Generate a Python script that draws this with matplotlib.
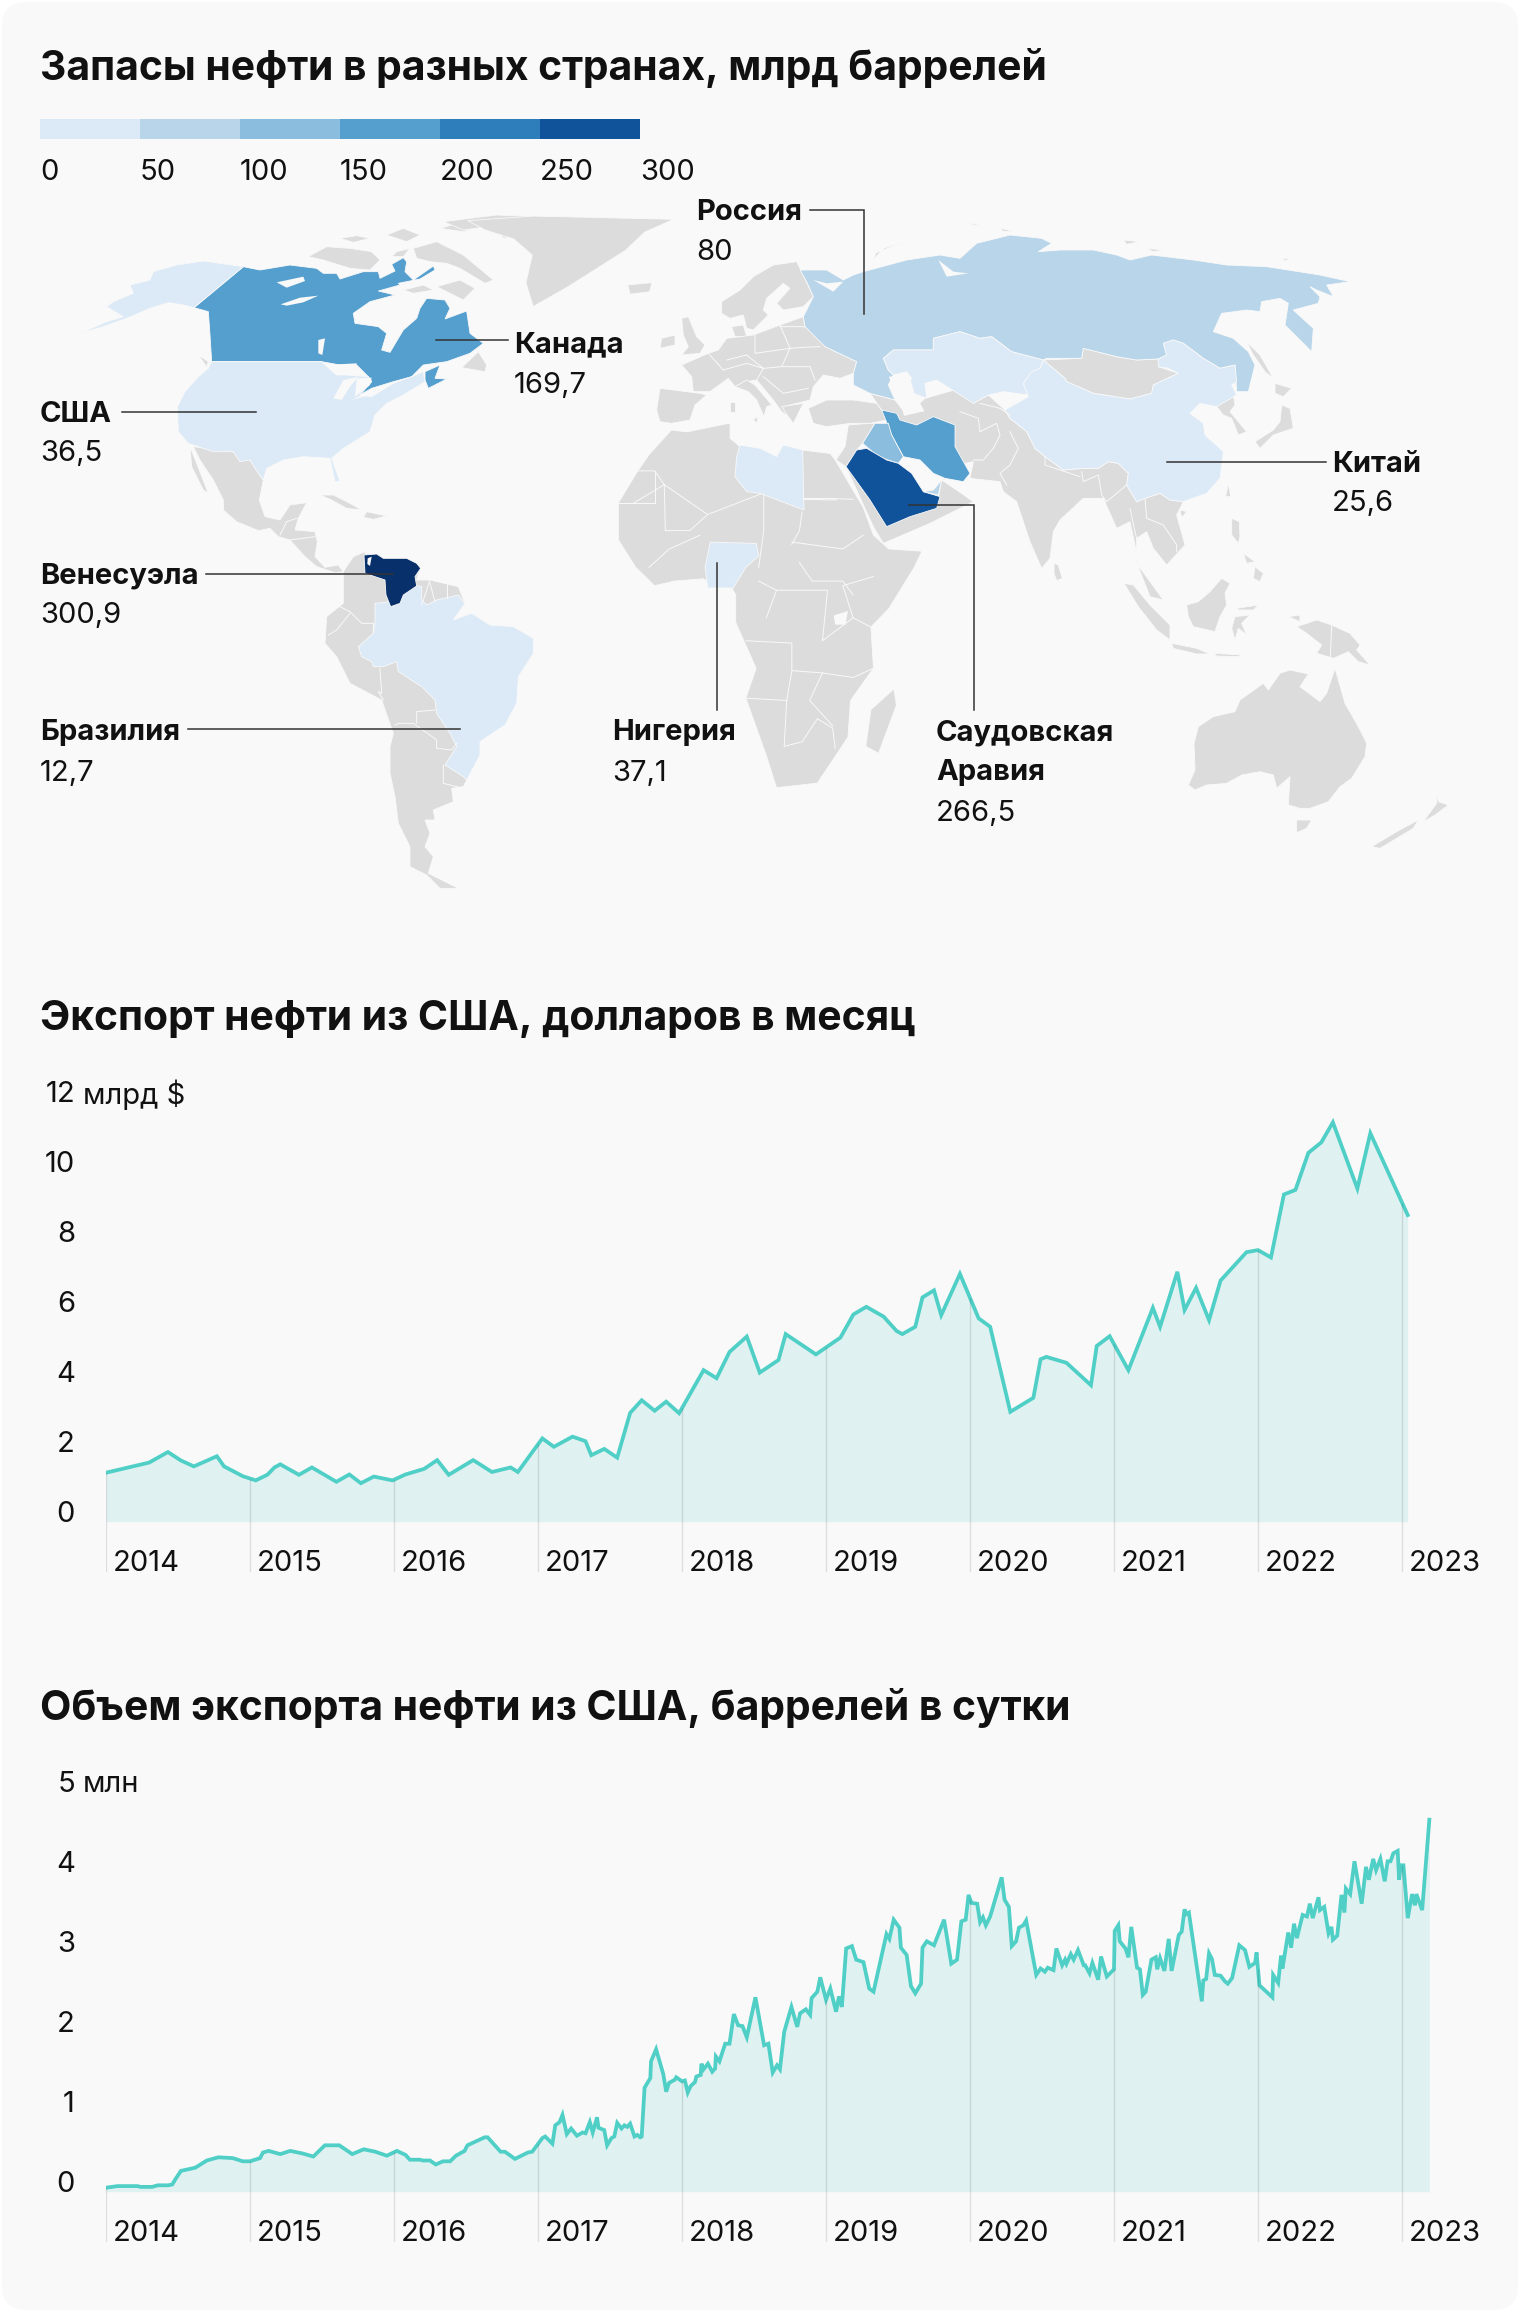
"""Oil reserves map and US oil export charts."""

import matplotlib

matplotlib.use("Agg")
import matplotlib.pyplot as plt
import numpy as np
from matplotlib.patches import FancyBboxPatch, Polygon

FIG_W, FIG_H = 1520, 2312
FONT = "Inter"

BG = "#f9f9f9"
LAND = "#dcdcdc"
LINE = "#4fcfc6"
FILL = "#dff1f1"

# legend
legend_edges = [0, 50, 100, 150, 200, 250, 300]
legend_colors = ["#dce9f6", "#b9d5ea", "#8abdde", "#559fce", "#2f7ebc", "#10539b"]
venezuela_color = "#08306b"

# map labels
countries = ["США", "Канада", "Венесуэла", "Бразилия", "Нигерия", "Россия", "Китай", "Саудовская\nАравия"]
reserves = ["36,5", "169,7", "300,9", "12,7", "37,1", "80", "25,6", "266,5"]

years = [2014, 2015, 2016, 2017, 2018, 2019, 2020, 2021, 2022, 2023]

# export, bn USD per month
export_x = [
    2014.00, 2014.30, 2014.43, 2014.52, 2014.61, 2014.77, 2014.82, 2014.95, 2015.04, 2015.12,
    2015.17, 2015.21, 2015.34, 2015.43, 2015.60, 2015.69, 2015.77, 2015.86, 2015.99, 2016.08,
    2016.21, 2016.30, 2016.38, 2016.55, 2016.68, 2016.81, 2016.86, 2017.03, 2017.11, 2017.24,
    2017.33, 2017.37, 2017.46, 2017.55, 2017.64, 2017.72, 2017.81, 2017.89, 2017.98, 2018.15,
    2018.24, 2018.33, 2018.45, 2018.54, 2018.67, 2018.72, 2018.93, 2019.10, 2019.19, 2019.28,
    2019.40, 2019.49, 2019.53, 2019.62, 2019.67, 2019.75, 2019.80, 2019.93, 2020.06, 2020.14,
    2020.28, 2020.44, 2020.49, 2020.53, 2020.67, 2020.84, 2020.88, 2020.97, 2021.10, 2021.27,
    2021.32, 2021.44, 2021.49, 2021.57, 2021.66, 2021.74, 2021.92, 2022.00, 2022.09, 2022.18,
    2022.26, 2022.35, 2022.44, 2022.52, 2022.69, 2022.78, 2023.04,
]
export_y = [
    1.40, 1.69, 1.99, 1.75, 1.58, 1.87, 1.58, 1.30, 1.18, 1.34,
    1.55, 1.64, 1.34, 1.55, 1.14, 1.35, 1.10, 1.29, 1.18, 1.35,
    1.51, 1.76, 1.34, 1.76, 1.42, 1.55, 1.42, 2.38, 2.14, 2.43,
    2.30, 1.90, 2.08, 1.83, 3.11, 3.47, 3.17, 3.43, 3.10, 4.33,
    4.10, 4.85, 5.29, 4.26, 4.62, 5.36, 4.78, 5.26, 5.92, 6.14,
    5.86, 5.45, 5.36, 5.57, 6.41, 6.61, 5.90, 7.08, 5.81, 5.57,
    3.14, 3.54, 4.64, 4.71, 4.54, 3.90, 5.02, 5.30, 4.33, 6.11,
    5.57, 7.14, 6.05, 6.68, 5.76, 6.89, 7.70, 7.76, 7.55, 9.35,
    9.48, 10.54, 10.84, 11.41, 9.52, 11.10, 8.76,
]

# export volume, mln barrels per day
volume_x = [
    2014.00, 2014.08, 2014.22, 2014.24, 2014.32, 2014.36, 2014.43, 2014.46, 2014.48, 2014.52,
    2014.62, 2014.70, 2014.78, 2014.88, 2014.95, 2015.00, 2015.07, 2015.09, 2015.13, 2015.21,
    2015.28, 2015.36, 2015.44, 2015.52, 2015.62, 2015.71, 2015.79, 2015.87, 2015.95, 2016.02,
    2016.08, 2016.11, 2016.18, 2016.20, 2016.25, 2016.29, 2016.34, 2016.39, 2016.43, 2016.49,
    2016.51, 2016.63, 2016.65, 2016.74, 2016.77, 2016.84, 2016.93, 2016.96, 2017.03, 2017.05,
    2017.10, 2017.12, 2017.15, 2017.17, 2017.20, 2017.23, 2017.27, 2017.31, 2017.33, 2017.36,
    2017.38, 2017.41, 2017.42, 2017.46, 2017.48, 2017.51, 2017.53, 2017.55, 2017.58, 2017.60,
    2017.62, 2017.64, 2017.67, 2017.69, 2017.71, 2017.72, 2017.74, 2017.78, 2017.785, 2017.82,
    2017.87, 2017.89, 2017.91, 2017.95, 2017.96, 2018.00, 2018.02, 2018.04, 2018.06, 2018.09,
    2018.10, 2018.13, 2018.135, 2018.15, 2018.18, 2018.21, 2018.23, 2018.235, 2018.26, 2018.30,
    2018.33, 2018.36, 2018.39, 2018.42, 2018.45, 2018.51, 2018.57, 2018.60, 2018.63, 2018.66,
    2018.68, 2018.71, 2018.76, 2018.80, 2018.82, 2018.86, 2018.89, 2018.90, 2018.94, 2018.96,
    2019.00, 2019.03, 2019.07, 2019.09, 2019.11, 2019.14, 2019.18, 2019.21, 2019.26, 2019.30,
    2019.33, 2019.42, 2019.44, 2019.47, 2019.51, 2019.52, 2019.56, 2019.59, 2019.62, 2019.66,
    2019.67, 2019.70, 2019.75, 2019.82, 2019.87, 2019.91, 2019.94, 2019.97, 2019.99, 2020.01,
    2020.05, 2020.07, 2020.09, 2020.11, 2020.14, 2020.22, 2020.24, 2020.27, 2020.29, 2020.32,
    2020.34, 2020.37, 2020.39, 2020.46, 2020.49, 2020.52, 2020.54, 2020.58, 2020.60, 2020.64,
    2020.66, 2020.67, 2020.70, 2020.72, 2020.75, 2020.79, 2020.80, 2020.83, 2020.85, 2020.89,
    2020.91, 2020.95, 2021.00, 2021.005, 2021.03, 2021.04, 2021.08, 2021.10, 2021.12, 2021.16,
    2021.18, 2021.20, 2021.22, 2021.26, 2021.29, 2021.30, 2021.32, 2021.35, 2021.38, 2021.40,
    2021.45, 2021.47, 2021.49, 2021.50, 2021.52, 2021.61, 2021.62, 2021.64, 2021.66, 2021.68,
    2021.70, 2021.74, 2021.77, 2021.79, 2021.82, 2021.87, 2021.91, 2021.94, 2021.98, 2021.99,
    2022.01, 2022.10, 2022.105, 2022.14, 2022.16, 2022.17, 2022.21, 2022.23, 2022.25, 2022.27,
    2022.31, 2022.34, 2022.36, 2022.38, 2022.42, 2022.43, 2022.46, 2022.49, 2022.51, 2022.52,
    2022.55, 2022.58, 2022.60, 2022.61, 2022.64, 2022.67, 2022.72, 2022.75, 2022.77, 2022.80,
    2022.82, 2022.85, 2022.88, 2022.90, 2022.92, 2022.94, 2022.97, 2022.98, 2022.99, 2023.01,
    2023.04, 2023.07, 2023.09, 2023.10, 2023.14, 2023.19,
]
volume_y = [
    0.05, 0.07, 0.07, 0.06, 0.06, 0.08, 0.08, 0.09, 0.15, 0.26,
    0.30, 0.39, 0.43, 0.42, 0.38, 0.38, 0.42, 0.49, 0.51, 0.47,
    0.51, 0.48, 0.44, 0.58, 0.58, 0.47, 0.53, 0.50, 0.45, 0.51,
    0.46, 0.40, 0.40, 0.39, 0.39, 0.34, 0.38, 0.38, 0.45, 0.51,
    0.58, 0.68, 0.68, 0.50, 0.50, 0.41, 0.49, 0.50, 0.67, 0.69,
    0.60, 0.83, 0.87, 0.96, 0.72, 0.79, 0.70, 0.74, 0.73, 0.87,
    0.74, 0.93, 0.80, 0.77, 0.58, 0.67, 0.69, 0.86, 0.79, 0.83,
    0.81, 0.85, 0.69, 0.71, 0.68, 0.69, 1.30, 1.42, 1.63, 1.78,
    1.47, 1.25, 1.36, 1.40, 1.43, 1.38, 1.39, 1.24, 1.32, 1.37,
    1.44, 1.46, 1.60, 1.53, 1.60, 1.50, 1.54, 1.69, 1.63, 1.85,
    1.85, 2.22, 2.08, 2.07, 1.93, 2.43, 1.83, 1.85, 1.49, 1.58,
    1.53, 2.00, 2.31, 2.06, 2.23, 2.28, 2.21, 2.42, 2.50, 2.68,
    2.40, 2.54, 2.25, 2.44, 2.31, 3.04, 3.07, 2.90, 2.87, 2.54,
    2.50, 3.22, 3.16, 3.40, 3.30, 3.05, 2.96, 2.57, 2.48, 2.60,
    3.05, 3.13, 3.08, 3.40, 2.85, 2.90, 3.38, 3.40, 3.71, 3.61,
    3.60, 3.37, 3.43, 3.33, 3.44, 3.93, 3.65, 3.56, 3.07, 3.13,
    3.30, 3.33, 3.39, 2.71, 2.79, 2.75, 2.80, 2.77, 3.04, 2.83,
    2.90, 2.85, 2.97, 2.90, 3.02, 2.83, 2.83, 2.73, 2.86, 2.65,
    2.94, 2.69, 2.78, 3.26, 3.33, 3.13, 3.04, 2.93, 3.31, 2.80,
    2.78, 2.46, 2.50, 2.90, 2.93, 2.78, 2.92, 2.76, 3.16, 2.76,
    3.21, 3.25, 3.53, 3.47, 3.49, 2.38, 2.64, 2.66, 2.98, 2.91,
    2.71, 2.70, 2.63, 2.60, 2.67, 3.08, 3.02, 2.81, 2.86, 2.99,
    2.58, 2.43, 2.71, 2.61, 2.95, 2.79, 3.24, 3.05, 3.35, 3.17,
    3.46, 3.44, 3.60, 3.42, 3.68, 3.52, 3.56, 3.23, 3.31, 3.15,
    3.20, 3.71, 3.49, 3.79, 3.72, 4.13, 3.60, 4.06, 3.90, 4.16,
    4.02, 4.16, 3.88, 4.13, 4.13, 4.23, 4.26, 3.90, 4.08, 4.08,
    3.42, 3.72, 3.58, 3.72, 3.52, 4.65,
]

# Map outlines traced by region, each region has its own map units. The helpers
# further down bring them to picture pixels.

# North America
ALASKA = [(520, 185), (372, 308), (340, 300), (295, 293), (240, 310), (170, 340), (90, 368), (30, 385), (110, 350),
          (160, 335), (110, 305), (130, 290), (190, 265), (180, 240), (240, 225), (250, 200), (320, 180), (400, 168)]
CANADA = [(520, 185), (570, 195), (660, 180), (740, 190), (760, 205), (800, 205), (810, 222), (880, 200), (925, 200),
          (930, 220), (975, 198), (965, 178), (1000, 158), (1010, 170), (1005, 200), (1030, 225), (1090, 183),
          (1095, 195), (1050, 222), (985, 235), (990, 240), (925, 258), (975, 270), (900, 290), (850, 325), (855, 355),
          (925, 365), (950, 385), (935, 435), (960, 442), (985, 400), (1000, 375), (1040, 340), (1050, 310), (1070, 280),
          (1125, 285), (1140, 310), (1125, 342), (1190, 318), (1200, 385), (1240, 415), (1200, 445), (1130, 470),
          (1060, 480), (1025, 515), (970, 530), (905, 550), (860, 575), (870, 545), (905, 530), (895, 515), (860, 480),
          (810, 480), (755, 470), (425, 470), (420, 390), (415, 320), (372, 308)]
NOVA_SCOTIA = [(1065, 500), (1110, 480), (1095, 520), (1130, 522), (1075, 550), (1065, 525)]
CANADA_LAKES = [[(620, 232), (700, 215), (705, 228), (650, 248)],
                [(632, 298), (690, 278), (745, 272), (700, 292), (650, 302)],
                [(745, 405), (765, 400), (757, 450), (745, 445)]]
USA = [(425, 470), (755, 470), (800, 510), (830, 510), (895, 515), (905, 530), (870, 570), (905, 575), (970, 535),
       (1025, 515), (1060, 500), (1065, 530), (1000, 570), (950, 595), (915, 630), (900, 680), (820, 730), (785, 760),
       (810, 830), (795, 830), (780, 760), (700, 755), (640, 765), (590, 790), (580, 825), (555, 790), (540, 765),
       (510, 770), (490, 740), (430, 740), (385, 725), (355, 715), (325, 680), (322, 605), (345, 560), (385, 515),
       (415, 490)]
GREAT_LAKES = [[(765, 480), (860, 475), (860, 490), (800, 510)], [(790, 580), (820, 525), (865, 515), (840, 545), (815, 585)],
               [(860, 520), (905, 518), (900, 540), (855, 575)], [(845, 585), (905, 555), (960, 535), (900, 570)]]
ARCTIC_ISLANDS = [
    [(715, 155), (770, 125), (840, 130), (905, 140), (930, 165), (900, 195), (840, 190), (760, 165)],
    [(810, 100), (860, 92), (900, 100), (850, 112)],
    [(950, 90), (1000, 70), (1050, 90), (1010, 110)],
    [(1110, 70), (1200, 45), (1250, 60), (1180, 80)],
    [(1030, 130), (1100, 110), (1180, 150), (1270, 225), (1245, 235), (1170, 190), (1130, 175), (1080, 170), (1040, 160)],
    [(980, 140), (1020, 130), (1000, 155), (965, 155)],
    [(1000, 255), (1060, 240), (1090, 255), (1030, 265)],
    [(1100, 245), (1170, 225), (1215, 250), (1180, 285), (1140, 265)],
    [(1175, 488), (1225, 440), (1250, 480), (1245, 500)],
    [(385, 450), (415, 470), (410, 485)],
    [(1120, 50), (1280, 30), (1410, 35), (1290, 60), (1180, 75)],
    [(1290, 80), (1360, 90), (1300, 100)],
]

# Atlantic side, west map units
GREENLAND = [(965, 45), (1100, 35), (1390, 42), (1330, 70), (1290, 110), (1230, 150), (1170, 190), (1100, 232),
             (1085, 180), (1098, 120), (1060, 85), (1000, 65)]
ICELAND = [(1295, 185), (1345, 180), (1340, 200), (1300, 205)]

# Latin America
MEXICO = [(40, -100), (160, -84), (210, -60), (250, 0), (238, 60), (255, 110), (300, 120), (330, 75), (380, 68), (355, 115),
          (345, 150), (405, 155), (412, 185), (405, 230), (435, 262), (475, 255), (490, 275), (465, 278), (410, 260),
          (375, 230), (330, 180), (295, 170), (270, 145), (235, 152), (170, 125), (130, 90), (130, 60), (100, 0), (60, -60)]
BAJA = [(30, -100), (50, -50), (85, 40), (70, 30), (35, -40)]
CUBA = [(420, 45), (460, 45), (510, 70), (545, 90), (500, 85), (455, 60)]
HISPANIOLA = [(560, 95), (620, 108), (580, 118), (550, 112)]
SOUTH_AMERICA = [(490, 275), (520, 230), (555, 215), (560, 260), (640, 280), (720, 265), (710, 300), (750, 300), (835, 320),
                 (855, 370), (820, 420), (875, 400), (930, 435), (1000, 440), (1060, 475), (1060, 520), (1015, 590),
                 (1010, 670), (975, 735), (900, 785), (900, 825), (860, 900), (850, 920), (815, 925), (820, 965), (760, 990),
                 (765, 1020), (735, 1020), (750, 1060), (735, 1100), (760, 1130), (745, 1180), (785, 1200), (835, 1225),
                 (780, 1225), (740, 1185), (690, 1160), (690, 1100), (655, 1030), (645, 950), (630, 880), (630, 800),
                 (640, 760), (605, 660), (510, 610), (470, 530), (435, 490), (440, 410), (490, 370), (490, 300)]
BRAZIL = [(585, 370), (630, 365), (640, 380), (670, 345), (705, 315), (725, 320), (725, 360), (740, 375), (770, 360),
          (835, 345), (855, 370), (820, 420), (875, 400), (930, 435), (1000, 440), (1060, 475), (1060, 520), (1015, 590),
          (1010, 670), (975, 735), (900, 785), (900, 825), (860, 900), (850, 890), (795, 855), (830, 800), (810, 760),
          (770, 700), (765, 660), (725, 620), (655, 575), (650, 545), (610, 560), (580, 560), (575, 545), (545, 530),
          (535, 500), (580, 460), (585, 430)]
VENEZUELA = [(552, 225), (590, 222), (610, 235), (680, 235), (710, 250), (722, 265), (705, 290), (710, 318), (670, 345),
             (660, 370), (632, 380), (618, 345), (615, 300), (555, 280)]
MARACAIBO = [(563, 235), (575, 230), (570, 258), (562, 252)]
LATAM_BORDERS = [
    [(470, 375), (510, 395), (545, 430), (580, 430), (580, 460)],
    [(445, 465), (470, 450), (510, 400)],
    [(600, 565), (605, 640), (595, 635), (610, 660)],
    [(645, 735), (655, 730), (700, 730), (770, 780), (770, 805), (815, 810), (830, 790)],
    [(710, 730), (710, 695), (765, 690)],
    [(750, 300), (725, 375)],
    [(750, 310), (765, 365)],
    [(800, 310), (800, 355)],
    [(790, 855), (790, 910), (850, 925)],
    [(300, 165), (320, 125), (350, 115)],
    [(330, 180), (405, 170)],
]

# Europe and Middle East
SCANDINAVIA = [(245, 125), (300, 90), (340, 50), (400, 15), (470, 5), (490, 45), (520, 110), (490, 140), (430, 150),
               (410, 130), (450, 85), (430, 70), (380, 115), (370, 150), (385, 165), (340, 210), (320, 205), (310, 165),
               (270, 175), (245, 160)]
DENMARK = [(275, 200), (310, 195), (320, 230), (285, 230)]
EUROPE = [(125, 315), (205, 280), (235, 270), (260, 235), (340, 225), (420, 195), (490, 170), (495, 200), (540, 235),
          (555, 260), (650, 305), (640, 340), (600, 355), (550, 345), (520, 380), (510, 420), (470, 430), (430, 440),
          (445, 470), (425, 455), (400, 420), (350, 360), (320, 365), (285, 380), (265, 355), (210, 395), (160, 395),
          (155, 350)]
ITALY = [(320, 360), (345, 375), (395, 435), (380, 440), (372, 470), (350, 420), (325, 395), (285, 380)]
IBERIA = [(60, 385), (180, 400), (200, 405), (165, 435), (150, 480), (95, 490), (60, 485), (50, 450)]
SARDINIA = [(270, 425), (285, 425), (285, 455), (270, 455)]
SICILY = [(340, 478), (355, 470), (350, 490)]
UK = [(125, 175), (145, 170), (170, 230), (195, 255), (180, 280), (125, 285), (145, 260), (130, 225)]
IRELAND = [(65, 235), (105, 225), (105, 255), (60, 265)]
GREECE = [(425, 440), (490, 430), (460, 490), (445, 470)]
TURKEY = [(505, 445), (560, 420), (640, 420), (710, 430), (725, 450), (740, 480), (690, 490), (630, 490), (560, 500), (520, 490)]
LEVANT = [(625, 495), (690, 490), (705, 490), (668, 550), (650, 570), (618, 620), (588, 600), (615, 560)]
ARABIA_SOUTH = [(618, 620), (700, 800), (730, 850), (870, 790), (1000, 725), (950, 690), (905, 660), (890, 740)]
IRAQ = [(668, 550), (705, 490), (745, 490), (755, 525), (790, 590), (775, 610), (715, 590)]
IRAN = [(725, 450), (770, 460), (780, 480), (830, 495), (880, 470), (945, 495), (945, 560), (990, 640), (970, 665),
        (915, 655), (880, 640), (840, 600), (790, 590), (755, 525)]
SAUDI = [(618, 620), (650, 570), (680, 565), (740, 600), (775, 610), (815, 640), (850, 695), (900, 710), (890, 745),
         (810, 770), (740, 800), (690, 720)]
UAE = [(850, 695), (880, 690), (905, 660), (895, 705)]
LIBYA = [(290, 590), (300, 555), (360, 565), (410, 590), (430, 555), (488, 570), (492, 750), (360, 700), (320, 695), (285, 650)]
EUROPE_BORDERS = [
    [(345, 225), (345, 280), (450, 265), (420, 195)],
    [(450, 265), (490, 262), (540, 260)],
    [(450, 265), (425, 320), (370, 325), (320, 285)],
    [(250, 330), (320, 310), (370, 325), (350, 360)],
    [(425, 320), (510, 320), (525, 360)],
    [(370, 350), (430, 400), (505, 385)],
    [(260, 300), (320, 285)],
    [(205, 280), (250, 330)],
    [(495, 200), (420, 200), (420, 180), (490, 170)],
    [(165, 395), (215, 395)],
    [(590, 720), (490, 718), (560, 715), (640, 718)],
]

# East Asia
RUSSIA = [(-480, 165), (-400, 165), (-350, 195), (-320, 180), (-290, 170), (-160, 135), (-60, 120), (0, 130), (50, 85),
          (150, 60), (245, 70), (275, 85), (235, 110), (300, 105), (400, 105), (470, 120), (510, 135), (575, 120),
          (700, 135), (800, 150), (920, 155), (1080, 180), (1170, 200), (1100, 210), (1120, 245), (1070, 225), (1050, 215),
          (1080, 245), (1075, 265), (1000, 285), (1060, 340), (1055, 410), (975, 330), (985, 265), (960, 250), (905, 260),
          (900, 290), (860, 285), (785, 295), (760, 350), (820, 370), (865, 410), (885, 450), (865, 530), (830, 530),
          (825, 450), (780, 460), (730, 430), (670, 385), (640, 375), (610, 385), (620, 420), (595, 432), (530, 435),
          (470, 425), (370, 400), (365, 430), (260, 430), (250, 435), (155, 410), (95, 365), (60, 370), (0, 350), (-80, 370),
          (-80, 405), (-200, 405), (-230, 430), (-215, 465), (-200, 480), (-215, 510), (-195, 555), (-270, 535), (-320, 510),
          (-320, 475), (-310, 440), (-405, 395), (-465, 335), (-470, 305), (-440, 245), (-460, 200)]
WHITE_SEA = [(-440, 195), (-380, 230), (-350, 200), (-400, 205)]
OB_GULF = [(-65, 135), (-40, 185), (25, 175), (-20, 170)]
KAZAKHSTAN = [(-230, 430), (-200, 405), (-80, 405), (-80, 370), (0, 350), (60, 370), (95, 365), (155, 410), (250, 435),
              (240, 460), (210, 480), (190, 505), (205, 540), (130, 530), (85, 540), (40, 565), (-70, 495), (-105, 505),
              (-100, 550), (-140, 535), (-165, 515), (-145, 490), (-160, 470), (-200, 480), (-215, 465)]
CHINA = [(190, 505), (215, 470), (240, 460), (250, 435), (315, 490), (320, 500), (400, 535), (510, 552), (575, 535),
         (580, 510), (655, 475), (625, 460), (595, 455), (595, 432), (620, 420), (610, 385), (640, 375), (670, 385),
         (730, 430), (780, 460), (825, 450), (830, 500), (815, 510), (830, 540), (770, 575), (720, 565), (690, 595),
         (730, 625), (735, 660), (790, 710), (780, 790), (740, 835), (670, 860), (630, 855), (600, 835), (555, 850),
         (530, 860), (500, 810), (505, 775), (475, 745), (445, 740), (415, 760), (370, 760), (310, 765), (255, 725),
         (225, 700), (200, 650), (150, 610), (135, 585), (205, 545)]
MONGOLIA = [(250, 435), (365, 430), (370, 400), (470, 425), (530, 435), (595, 432), (595, 455), (655, 475), (580, 510),
            (575, 535), (510, 552), (400, 535), (320, 500), (315, 490)]
SOUTH_ASIA = [(-235, 585), (-270, 535), (-195, 555), (-160, 600), (-105, 550), (0, 520), (40, 565), (85, 540), (135, 585),
              (150, 610), (200, 650), (225, 700), (255, 725), (310, 765), (370, 760), (415, 760), (445, 740), (475, 745),
              (505, 775), (500, 810), (530, 860), (555, 850), (600, 835), (630, 855), (670, 860), (650, 900), (675, 990),
              (620, 1050), (580, 1000), (560, 950), (530, 970), (530, 1045), (610, 1155), (570, 1145), (535, 1055),
              (525, 990), (510, 920), (470, 940), (430, 850), (370, 850), (300, 915), (280, 950), (270, 1030), (245, 1060),
              (210, 980), (170, 860), (130, 830), (120, 800), (30, 790), (40, 740), (-60, 760)]
EAST_ISLANDS = [
    [(805, 805), (812, 845), (797, 845)],  # Taiwan
    [(660, 885), (680, 890), (665, 908)],  # Hainan
    [(885, 680), (940, 645), (960, 620), (965, 570), (990, 580), (1000, 640), (940, 660), (900, 700)],  # Honshu
    [(945, 505), (995, 520), (970, 545), (945, 535)],  # Hokkaido
    [(770, 575), (820, 540), (825, 570), (810, 590), (860, 650), (835, 660), (815, 610), (790, 600)],  # Korea
    [(860, 380), (900, 420), (940, 490), (915, 470), (880, 420)],  # Sakhalin
    [(815, 910), (838, 920), (840, 965), (835, 985), (815, 960)],  # Luzon
    [(20, 20), (90, 40), (40, 30)],
    [(120, 40), (160, 48), (130, 50)],
    [(490, 75), (540, 80), (500, 88)],
    [(965, 130), (995, 130), (975, 137)],
    [(560, 100), (610, 105), (580, 110)],
]
ASIA_BORDERS = [
    [(60, 650), (110, 625), (120, 660), (100, 700), (70, 735), (40, 735)],
    [(150, 650), (175, 700), (150, 750), (120, 775), (140, 810)],
    [(255, 725), (255, 750), (360, 785)],
    [(365, 770), (370, 800), (415, 780), (425, 840), (440, 860), (500, 810)],
    [(510, 880), (525, 950), (540, 1010)],
    [(555, 850), (560, 910), (610, 930), (650, 990), (650, 1010)],
    [(0, 590), (55, 610), (60, 650)],
    [(60, 565), (120, 580), (150, 600)],
]

# Oceania
AUSTRALIA = [(415, 765), (435, 720), (432, 640), (445, 590), (490, 560), (555, 545), (570, 510), (640, 460), (655, 480),
             (690, 430), (720, 420), (775, 432), (750, 470), (810, 515), (830, 490), (855, 415), (885, 520), (925, 590),
             (950, 640), (945, 680), (905, 745), (870, 770), (835, 815), (780, 835), (750, 835), (715, 825), (720, 740),
             (680, 775), (670, 735), (630, 725), (575, 735), (530, 760), (470, 765), (435, 780)]
OCEANIA_ISLANDS = [
    [(740, 870), (785, 870), (770, 895), (740, 908)],  # Tasmania
    [(965, 950), (1040, 905), (1105, 870), (1090, 895), (990, 955)],  # New Zealand
    [(1120, 875), (1160, 820), (1158, 785), (1165, 815), (1195, 825), (1155, 855)],
    [(715, 260), (750, 255), (750, 275)],
    [(740, 290), (800, 270), (845, 285), (900, 310), (930, 345), (920, 360), (960, 405), (925, 395), (895, 365), (850, 385),
     (800, 370), (815, 345), (770, 310)],  # New Guinea
    [(410, 225), (445, 215), (480, 185), (515, 145), (540, 160), (525, 190), (530, 225), (510, 260), (495, 305), (430, 290),
     (415, 260)],  # Borneo
    [(222, 160), (250, 165), (300, 225), (360, 285), (360, 330), (320, 300), (265, 230)],  # Sumatra
    [(365, 340), (440, 355), (480, 372), (440, 372), (370, 355)],  # Java
    [(490, 370), (580, 375), (560, 380), (500, 378)],
    [(545, 295), (555, 260), (600, 255), (575, 280), (590, 315), (565, 295), (555, 330)],  # Sulawesi
    [(560, 235), (625, 225), (610, 240), (565, 240)],
    [(12, 100), (25, 105), (37, 145), (20, 152), (12, 130)],  # Sri Lanka
    [(615, 110), (640, 130), (630, 155), (610, 145)],  # Mindanao
    [(580, 70), (615, 95), (590, 100)],
]
NEW_GUINEA_BORDER = [(845, 285), (841, 385)]

# Africa and Indian Ocean, east map units
AFRICA = [(-98, 552), (-56, 501), (-26, 505), (59, 486), (59, 519), (78, 537), (118, 541), (150, 559), (163, 534), (203, 545),
          (255, 552), (265, 566), (320, 670), (340, 730), (370, 760), (435, 765), (420, 800), (370, 890), (335, 930),
          (340, 1020), (295, 1090), (290, 1170), (230, 1270), (150, 1280), (130, 1210), (90, 1085), (110, 1020), (70, 920),
          (70, 860), (60, 840), (35, 845), (7, 825), (-50, 830), (-89, 840), (-126, 800), (-160, 740), (-160, 660), (-122, 590)]
NIGERIA = [(20, 745), (110, 748), (115, 775), (90, 800), (65, 845), (15, 845), (10, 800)]
MADAGASCAR = [(380, 1065), (385, 1100), (350, 1205), (325, 1190), (335, 1110)]
NOVAYA_ZEMLYA = [(345, 115), (415, 85), (360, 105), (340, 130)]
CASPIAN = [(370, 385), (410, 380), (420, 420), (440, 460), (400, 470), (390, 430)]
LAKE_VICTORIA = [(262, 905), (290, 895), (285, 925), (265, 925)]
AFRICA_BORDERS = [
    [(-122, 590), (-89, 590), (-70, 620), (15, 685), (120, 640)],
    [(-160, 660), (-89, 660), (-89, 590)],
    [(-130, 660), (-70, 620)],
    [(-70, 620), (-68, 720), (-20, 720), (15, 685)],
    [(0, 730), (-60, 760), (-100, 800)],
    [(125, 640), (125, 720), (115, 800)],
    [(200, 680), (195, 720), (180, 750)],
    [(203, 650), (265, 650)],
    [(180, 745), (280, 760), (320, 730)],
    [(195, 790), (220, 830), (280, 830), (300, 860)],
    [(115, 830), (150, 850), (130, 910)],
    [(150, 850), (250, 850), (240, 960), (300, 910)],
    [(90, 960), (180, 965), (180, 1025), (240, 1030), (300, 1040), (340, 1020)],
    [(90, 1085), (170, 1090), (180, 1025)],
    [(170, 1090), (165, 1190), (200, 1180), (230, 1130), (260, 1150), (265, 1195)],
    [(240, 1030), (215, 1090), (260, 1145)],
    [(340, 820), (280, 840), (300, 910), (335, 930)],
]


def north_america(points):
    return [(70 + x / 3, 205 + y / 3) for x, y in points]


def latin_america(points):
    return [(180 + x / 3, 480 + y / 3) for x, y in points]


def europe(points):
    return [(640 + x / 3, 260 + y / 3) for x, y in points]


def east_asia(points):
    return [(960 + x / 3, 215 + y / 3) for x, y in points]


def oceania(points):
    return [(1050 + x / 3, 530 + y / 3) for x, y in points]


def west(points):
    return [(x / 2.063, 200 + y / 2.178) for x, y in points]


def east(points):
    return [(700 + x / 1.96, 200 + y / 2.178) for x, y in points]


def year_ticks(ax, values):
    """Year lines run from below the chart up to the series, labels sit to their right."""
    low = ax.get_ylim()[0]
    for year in years:
        top = np.interp(year, *values)
        ax.vlines(year, low, top, color="#000000", alpha=0.11, lw=1, zorder=3)
        ax.annotate(str(year), xy=(year, low), xytext=(7, 1), textcoords="offset pixels",
                    ha="left", va="baseline", fontsize=TICK_SIZE, color="#111111", family=FONT)


def value_ticks(ax, ticks, unit):
    for tick in ticks:
        ax.annotate(str(tick), xy=(0, tick), xycoords=ax.get_yaxis_transform(), xytext=(-31, 7),
                    textcoords="offset pixels", ha="right", va="center", fontsize=TICK_SIZE,
                    color="#111111", family=FONT)
    ax.annotate(unit, xy=(0, ticks[-1]), xycoords=ax.get_yaxis_transform(), xytext=(-23, 7),
                textcoords="offset pixels", ha="left", va="center", fontsize=TICK_SIZE,
                color="#111111", family=FONT)


def line_chart(top, bottom, base, per_unit, xs, ys, ticks, unit):
    left, right = 106, 1510
    ax = fig.add_axes([left / FIG_W, 1 - bottom / FIG_H, (right - left) / FIG_W, (bottom - top) / FIG_H])
    ax.set_xlim(2014, 2014 + (right - left) / 144)
    ax.set_ylim((base - bottom) / per_unit, (base - top) / per_unit)
    ax.axis("off")
    ax.fill_between(xs, 0, ys, color=FILL, lw=0, zorder=1)
    ax.plot(xs, ys, color=LINE, lw=2.7, solid_joinstyle="miter", zorder=2)
    year_ticks(ax, (xs, ys))
    value_ticks(ax, ticks, unit)
    return ax


TICK_SIZE = 21
fig = plt.figure(figsize=(FIG_W / 100, FIG_H / 100), dpi=100, facecolor="white")

page = fig.add_axes([0, 0, 1, 1])
page.set_xlim(0, FIG_W)
page.set_ylim(FIG_H, 0)
page.axis("off")
page.add_patch(FancyBboxPatch((2, 2), FIG_W - 4, FIG_H - 4, boxstyle="round,pad=0,rounding_size=24",
                              fc=BG, ec="none"))

# titles
for y, title in [(68, "Запасы нефти в разных странах, млрд баррелей"),
                 (1019, "Экспорт нефти из США, долларов в месяц"),
                 (1708, "Объем экспорта нефти из США, баррелей в сутки")]:
    page.text(40, y, title, fontsize=29.4, fontweight="bold", va="center", color="#111111", family=FONT)

# legend scale
legend_ax = fig.add_axes([40 / FIG_W, 1 - 139 / FIG_H, 600 / FIG_W, 20 / FIG_H])
legend_ax.set_xlim(0, 300)
legend_ax.set_ylim(0, 1)
legend_ax.axis("off")
legend_ax.bar(legend_edges[:-1], 1, width=50, align="edge", color=legend_colors, lw=0)
for edge in legend_edges:
    legend_ax.annotate(str(edge), xy=(edge, 0), xytext=(0, -33), textcoords="offset pixels", ha="left",
                       va="center", fontsize=TICK_SIZE, color="#111111", family=FONT)

# map
grey_shapes = [north_america(s) for s in ARCTIC_ISLANDS]
grey_shapes += [west(s) for s in (GREENLAND, ICELAND)]
grey_shapes += [latin_america(s) for s in (MEXICO, BAJA, CUBA, HISPANIOLA, SOUTH_AMERICA)]
grey_shapes += [europe(s) for s in (SCANDINAVIA, DENMARK, EUROPE, ITALY, IBERIA, SARDINIA, SICILY, UK, IRELAND, GREECE,
                                    TURKEY, LEVANT, ARABIA_SOUTH)]
grey_shapes += [east_asia(s) for s in [MONGOLIA, SOUTH_ASIA] + EAST_ISLANDS]
grey_shapes += [oceania(s) for s in [AUSTRALIA] + OCEANIA_ISLANDS]
grey_shapes += [east(s) for s in (AFRICA, MADAGASCAR, NOVAYA_ZEMLYA)]
for shape in grey_shapes:
    page.add_patch(Polygon(shape, fc=LAND, ec=BG, lw=0.6))

colored = [
    (north_america(CANADA), legend_colors[3]), (north_america(NOVA_SCOTIA), legend_colors[3]),
    (north_america(ALASKA), legend_colors[0]), (north_america(USA), legend_colors[0]),
    (latin_america(BRAZIL), legend_colors[0]), (latin_america(VENEZUELA), venezuela_color),
    (east(NIGERIA), legend_colors[0]), (europe(LIBYA), legend_colors[0]),
    (east_asia(RUSSIA), legend_colors[1]), (east_asia(KAZAKHSTAN), legend_colors[0]),
    (east_asia(CHINA), legend_colors[0]), (europe(IRAN), legend_colors[3]), (europe(IRAQ), legend_colors[2]),
    (europe(SAUDI), legend_colors[5]), (europe(UAE), legend_colors[1]),
]
for shape, color in colored:
    page.add_patch(Polygon(shape, fc=color, ec=BG, lw=0.6))

water = [north_america(s) for s in CANADA_LAKES + GREAT_LAKES]
water += [latin_america(MARACAIBO), east_asia(WHITE_SEA), east_asia(OB_GULF), east(CASPIAN), east(LAKE_VICTORIA)]
for shape in water:
    page.add_patch(Polygon(shape, fc=BG, ec="none"))

borders = [latin_america(s) for s in LATAM_BORDERS] + [europe(s) for s in EUROPE_BORDERS]
borders += [east_asia(s) for s in ASIA_BORDERS] + [east(s) for s in AFRICA_BORDERS]
borders.append(oceania(NEW_GUINEA_BORDER))
for line in borders:
    page.plot(*zip(*line), color=BG, lw=0.7, zorder=2)

# leaders
leaders = [
    [(122, 412), (256, 412)], [(436, 340), (508, 340)], [(206, 574), (393, 574)], [(188, 729), (460, 729)],
    [(717, 563), (717, 710)], [(810, 210), (864, 210), (864, 314)], [(1167, 462), (1326, 462)],
    [(909, 505), (974, 505), (974, 710)],
]
for pts in leaders:
    page.plot(*zip(*pts), color="#333333", lw=1.1, solid_joinstyle="miter", zorder=5)

label_pos = [(40, 414), (514, 345), (40, 576), (40, 733), (612, 733), (696, 212), (1332, 464), (936, 733)]
for (x, y), name, value in zip(label_pos, countries, reserves):
    lines = name.split("\n")
    for i, line in enumerate(lines):
        page.text(x, y + 40 * i, line, fontsize=TICK_SIZE, fontweight="bold", va="center", color="#111111", family=FONT)
    page.text(x, y + 40 * len(lines), value, fontsize=TICK_SIZE, va="center", color="#111111", family=FONT)

line_chart(1060, 1572, 1521.7, 35, export_x, export_y, [0, 2, 4, 6, 8, 10, 12], "млрд $")
line_chart(1760, 2242, 2191.7, 80, volume_x, volume_y, [0, 1, 2, 3, 4, 5], "млн")

fig.savefig("out.png", dpi=100, facecolor="white")
